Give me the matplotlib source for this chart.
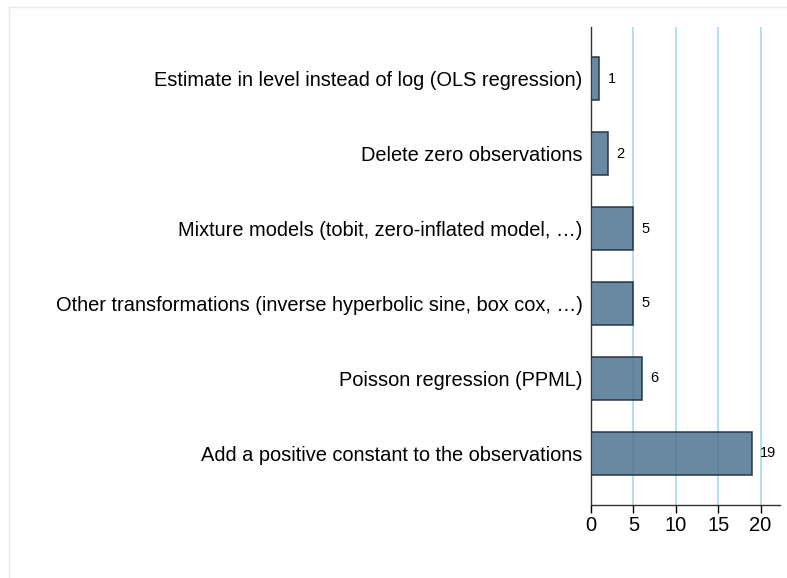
import matplotlib
matplotlib.use("Agg")
import matplotlib.pyplot as plt
from matplotlib.patches import Rectangle

plt.rcParams['font.family'] = ['Liberation Sans', 'DejaVu Sans']

categories = [
    "Estimate in level instead of log (OLS regression)",
    "Delete zero observations",
    "Mixture models (tobit, zero-inflated model, …)",
    "Other transformations (inverse hyperbolic sine, box cox, …)",
    "Poisson regression (PPML)",
    "Add a positive constant to the observations",
]
counts = [1, 2, 5, 5, 6, 19]
xticks = [0, 5, 10, 15, 20]

fig = plt.figure(figsize=(7.87, 5.78), dpi=100)
fig.patches.append(Rectangle((9/787, -0.2), 1.2, 1.2 - 7/578, transform=fig.transFigure,
                             fill=False, edgecolor='#e4ecec', linewidth=1, zorder=0))
ax = fig.add_axes([591/787, 1 - 505/578, (780 - 591)/787, (505 - 27)/578])

ypos = list(range(len(categories)))
ax.barh(ypos, counts, height=0.57, color='#4f7392', alpha=0.85,
        edgecolor='#1c2b3a', linewidth=1.2, zorder=3)
for y, v in zip(ypos, counts):
    ax.annotate(str(v), (v, y), xytext=(6, 0), textcoords='offset points',
                va='center', ha='left', fontsize=10.5, color='black')

ax.set_xlim(0, 22.3)
ax.set_ylim(5.69, -0.69)
ax.set_yticks(ypos)
ax.set_yticklabels(categories, fontsize=14.4)
ax.tick_params(axis='y', length=0, pad=6)
ax.set_xticks(xticks)
ax.set_xticklabels([str(t) for t in xticks], fontsize=14.5)
ax.tick_params(axis='x', length=6, width=1, pad=2, color='black')
for x in xticks[1:]:
    ax.axvline(x, color='#b0dcea', linewidth=1.3, zorder=1)
for s in ['top', 'right']:
    ax.spines[s].set_visible(False)
for s in ['left', 'bottom']:
    ax.spines[s].set_color('#333333')
    ax.spines[s].set_linewidth(1)

fig.savefig('out.png', dpi=100)
